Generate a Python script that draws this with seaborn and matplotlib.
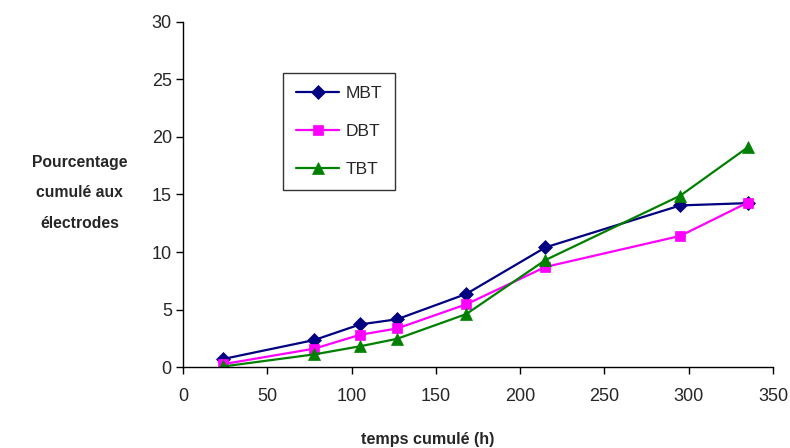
import matplotlib
matplotlib.use("Agg")
import matplotlib.pyplot as plt
import seaborn as sns
import pandas as pd

# data
temps = [24, 78, 105, 127, 168, 215, 295, 335]
mbt = [0.7, 2.35, 3.7, 4.15, 6.35, 10.4, 14.05, 14.25]
dbt = [0.25, 1.6, 2.8, 3.35, 5.45, 8.7, 11.4, 14.3]
tbt = [0.05, 1.1, 1.8, 2.45, 4.6, 9.3, 14.9, 19.1]
series_names = ["MBT", "DBT", "TBT"]

sns.set_style("ticks")
plt.rcParams['font.family'] = ['Liberation Sans', 'DejaVu Sans']

df = pd.DataFrame({"temps": temps * 3,
                   "valeur": mbt + dbt + tbt,
                   "serie": [n for n in series_names for _ in temps]})

colors = {"MBT": "#000080", "DBT": "#FF00FF", "TBT": "#008000"}
markers = {"MBT": "D", "DBT": "s", "TBT": "^"}
msizes = {"MBT": 7, "DBT": 7, "TBT": 8.5}

fig = plt.figure(figsize=(7.9, 4.48), dpi=100)
ax = fig.add_axes([0.2316, 0.1808, 0.7469, 0.7701])

for name in series_names:
    sub = df[df.serie == name]
    sns.lineplot(data=sub, x="temps", y="valeur", ax=ax, color=colors[name],
                 marker=markers[name], markersize=msizes[name],
                 markeredgecolor=colors[name], markeredgewidth=0.5,
                 linewidth=1.6, label=name)

ax.set_xlim(0, 350)
ax.set_ylim(0, 30)
ax.set_xticks(range(0, 351, 50))
ax.set_yticks(range(0, 31, 5))
ax.tick_params(labelsize=13, length=5, width=1, color="black", pad=3)
ax.tick_params(axis="x", pad=10)
for s in ["left", "bottom"]:
    ax.spines[s].set_color("black")
    ax.spines[s].set_linewidth(1)
sns.despine(ax=ax)

ax.set_xlabel("temps cumulé (h)", fontsize=11.6, fontweight="bold")
ax.xaxis.set_label_coords(0.414, -0.188)
ax.set_ylabel("Pourcentage\ncumulé aux\nélectrodes", fontsize=11.3,
              fontweight="bold", rotation=0, ha="center", va="center",
              linespacing=2.3)
ax.yaxis.set_label_coords(-0.175, 0.505)

leg = ax.legend(loc="upper left", bbox_to_anchor=(0.1695, 0.852),
                fontsize=12.5, frameon=True, fancybox=False,
                handlelength=2.5, labelspacing=1.32, borderpad=0.75,
                handletextpad=0.35, borderaxespad=0)
leg.get_frame().set_edgecolor("black")
leg.get_frame().set_linewidth(1)

fig.savefig("out.png", dpi=100)
